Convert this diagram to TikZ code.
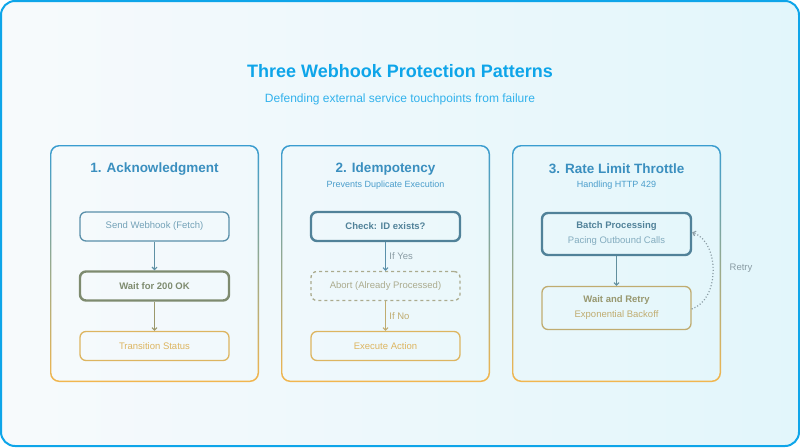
\documentclass[tikz,border=0pt]{standalone}
\usepackage{fontspec}
\setmainfont{Liberation Sans}
\usetikzlibrary{arrows.meta}
\definecolor{sky}{HTML}{0EA5E9}
\definecolor{bgA}{HTML}{F7FAFC}
\definecolor{bgB}{HTML}{E2F6FB}
\definecolor{pTop}{HTML}{3A9DD0}
\definecolor{pBot}{HTML}{F2B64E}
\definecolor{ttl}{HTML}{3A8FBF}
\definecolor{sub}{HTML}{4A9DCB}
\definecolor{cBlue}{HTML}{5A90AA}
\definecolor{cOlive}{HTML}{7E8B6F}
\definecolor{cGold}{HTML}{DDB560}
\definecolor{cSand}{HTML}{ABAB8E}
\definecolor{cKhaki}{HTML}{C0AC70}
\definecolor{cGray}{HTML}{8A9CA4}
\tikzset{
  box/.style={draw, rounded corners=6pt, minimum width=149pt, minimum height=29pt,
    line width=1.3pt, align=center, font=\fontsize{9.5}{12}\selectfont},
  keybox/.style={box, line width=2.4pt, font=\bfseries\fontsize{9.5}{12}\selectfont},
  flow/.style={line width=1.1pt, -{Straight Barb[length=2.5pt,width=5pt]}},
  lbl/.style={font=\fontsize{9.5}{12}\selectfont, anchor=west},
  head/.style={text=ttl, font=\bfseries\fontsize{13.5}{16}\selectfont},
  note/.style={text=sub, font=\fontsize{9}{11}\selectfont}
}
\begin{document}
\begin{tikzpicture}[x=1pt,y=-1pt]
\useasboundingbox (0,0) rectangle (800,447);
\path[left color=bgA, right color=bgB, rounded corners=14pt] (1,1) rectangle (799,446);
\draw[sky, line width=2pt, rounded corners=14pt] (1,1) rectangle (799,446);
\node[text=sky, font=\bfseries\fontsize{18}{22}\selectfont] (T) at (400,71) {Three Webhook Protection Patterns};
\node[text=sky!85!white, font=\fontsize{12}{14}\selectfont] (S) at (400,99) {Defending external service touchpoints from failure};
\foreach \x in {50,281,512}
  \shade[top color=pTop, bottom color=pBot, even odd rule, rounded corners=9pt]
    (\x,145) rectangle ++(209,237) [rounded corners=8pt] (\x+1.4,146.4) rectangle ++(206.2,234.2);
\node[head] (P1) at (154.5,169) {1. Acknowledgment};
\node[head] (P2) at (385.5,169) {2. Idempotency};
\node[note] (Q2) at (385.5,185) {Prevents Duplicate Execution};
\node[head] (P3) at (616.5,169) {3. Rate Limit Throttle};
\node[note] (Q3) at (616.5,185) {Handling HTTP 429};
\node[box, draw=cBlue, text=cBlue!85!white] (A1) at (154.5,226.5) {Send Webhook (Fetch)};
\node[keybox, draw=cOlive, text=cOlive] (A2) at (154.5,286) {Wait for 200 OK};
\node[box, draw=cGold, text=cGold] (A3) at (154.5,346) {Transition Status};
\draw[flow, cBlue!90!cOlive] (A1) -- (A2);
\draw[flow, cOlive!70!cGold] (A2) -- (A3);
\node[keybox, draw=cBlue!90!black, text=cBlue!90!black] (B1) at (385.5,226.5) {Check: ID exists?};
\node[box, dashed, draw=cSand, text=cSand] (B2) at (385.5,286) {Abort (Already Processed)};
\node[box, draw=cGold, text=cGold] (B3) at (385.5,346) {Execute Action};
\draw[flow, cBlue] (B1) -- node[lbl, text=cGray] {If Yes} (B2);
\draw[flow, cKhaki] (B2) -- node[lbl, text=cKhaki] {If No} (B3);
\node[keybox, draw=cBlue!90!black, text=cBlue!90!black, minimum height=42pt] (C1) at (616.5,234)
  {Batch Processing\\[3pt]\mdseries\color{cBlue!75!white}Pacing Outbound Calls};
\node[box, draw=cKhaki, minimum height=43pt] (C2) at (616.5,308)
  {\textcolor{cOlive!60!cKhaki}{\textbf{Wait and Retry}}\\[3pt]\color{cKhaki}Exponential Backoff};
\draw[flow, cBlue!80!cOlive] (C1) -- (C2);
\draw[flow, cGray, dotted, line width=1.2pt] ([yshift=-1pt]C2.east) .. controls (720,300) and (720,242) .. ([yshift=1.5pt]C1.east);
\node[text=cGray, font=\fontsize{9.5}{12}\selectfont] (R) at (741,268) {Retry};
\end{tikzpicture}
\end{document}
